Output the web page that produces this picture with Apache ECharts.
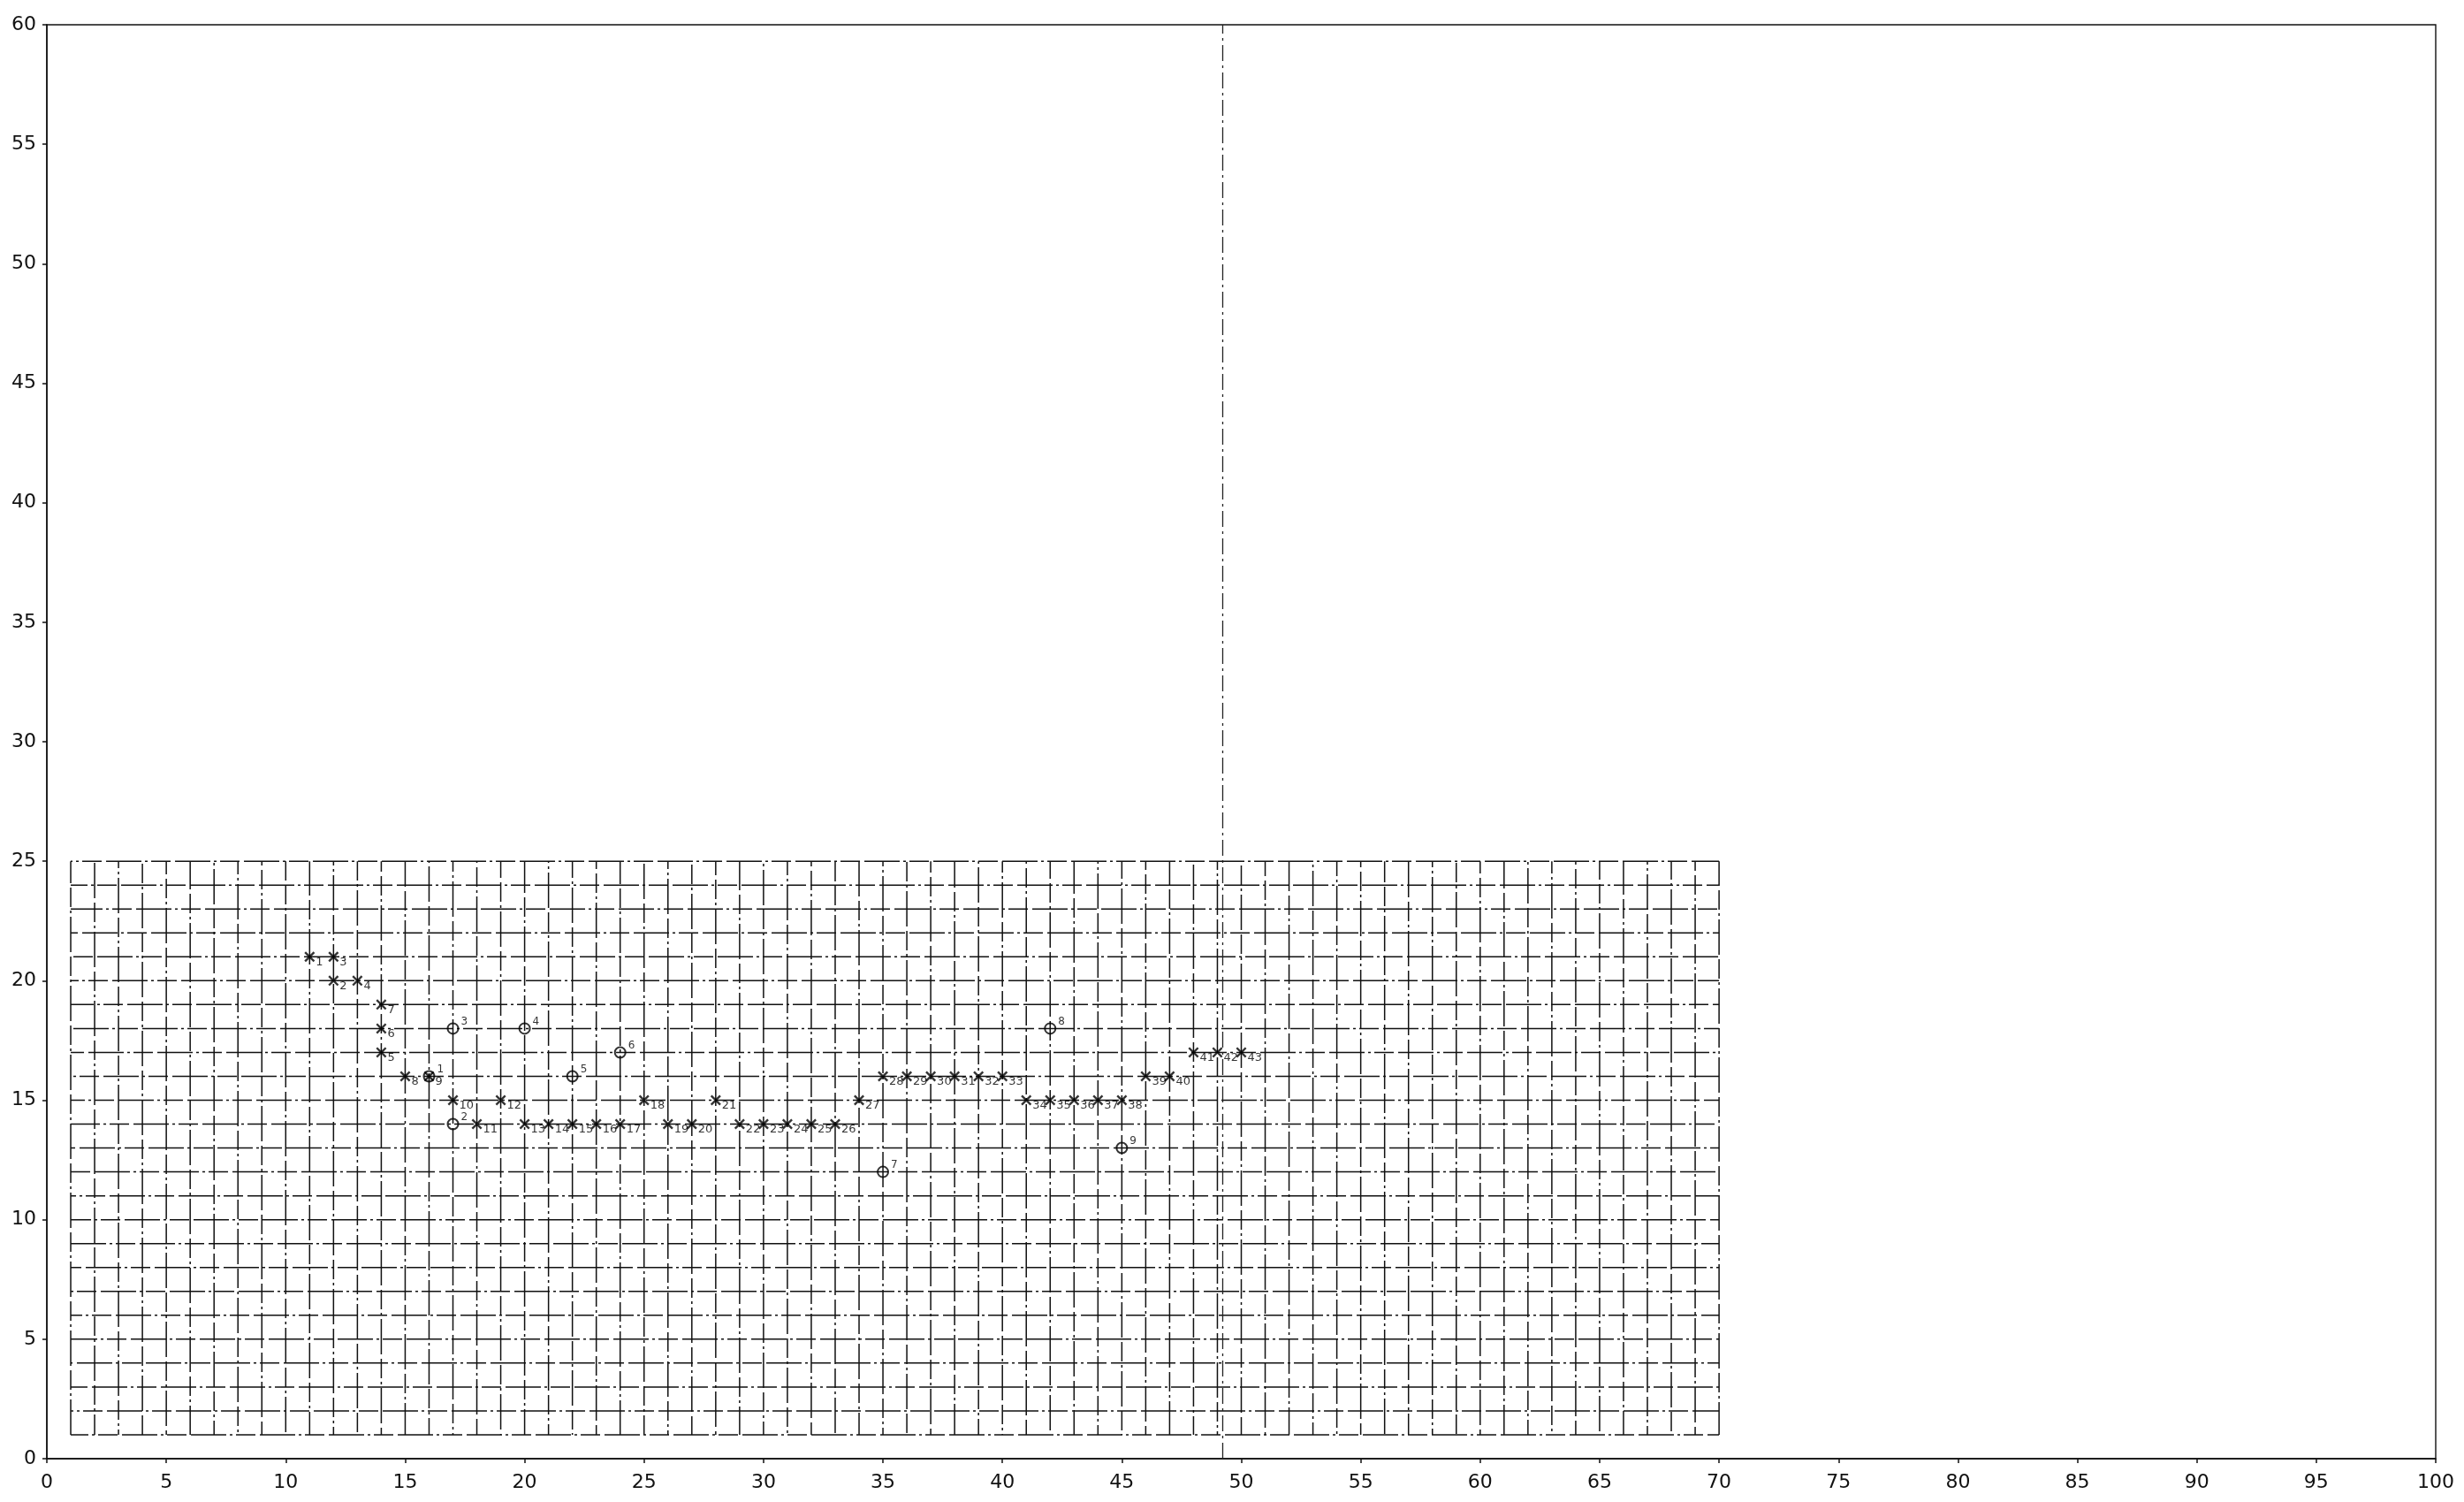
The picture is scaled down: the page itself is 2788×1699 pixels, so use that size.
<!DOCTYPE html>
<html>
<head>
<meta charset="utf-8">
<script src="https://cdn.jsdelivr.net/npm/echarts@6/dist/echarts.min.js"></script>
<style>
  html, body { margin: 0; padding: 0; background: #fff; }
  #chart { width: 2788px; height: 1699px; }
</style>
</head>
<body>
<div id="chart"></div>
<script>
// crosses, numbered 1..43 in order
const crossX = [11, 12, 12, 13, 14, 14, 14, 15, 16, 17, 18, 19, 20, 21, 22, 23, 24, 25, 26, 27,
  28, 29, 30, 31, 32, 33, 34, 35, 36, 37, 38, 39, 40, 41, 42, 43, 44, 45, 46, 47, 48, 49, 50];
const crossY = [21, 20, 21, 20, 17, 18, 19, 16, 16, 15, 14, 15, 14, 14, 14, 14, 14, 15, 14, 14,
  15, 14, 14, 14, 14, 14, 15, 16, 16, 16, 16, 16, 16, 15, 15, 15, 15, 15, 16, 16, 17, 17, 17];
// circles, numbered 1..9
const circleX = [16, 17, 17, 20, 22, 24, 35, 42, 45];
const circleY = [16, 14, 18, 18, 16, 17, 12, 18, 13];

// background reference grid (drawn cells) and the fold line of the sheet
const gridXRange = [1, 70];
const gridYRange = [1, 25];
const foldX = 49.2;

const xTicks = { min: 0, max: 100, interval: 5 };
const yTicks = { min: 0, max: 60, interval: 5 };

const gridLines = [];
for (let v = gridXRange[0]; v <= gridXRange[1]; v++) gridLines.push([0, v]);
for (let v = gridYRange[0]; v <= gridYRange[1]; v++) gridLines.push([1, v]);

const chart = echarts.init(document.getElementById('chart'));
const labelFont = 'DejaVu Sans';

const baseX = {
  type: 'value', min: xTicks.min, max: xTicks.max, interval: xTicks.interval,
  splitLine: { show: false }
};
const baseY = {
  type: 'value', min: yTicks.min, max: yTicks.max, interval: yTicks.interval,
  splitLine: { show: false }
};

const option = {
  animation: false,
  backgroundColor: '#fff',
  grid: {
    left: 53, right: 32, top: 28, bottom: 49,
    show: true, borderColor: '#111', borderWidth: 1.4
  },
  xAxis: [
    Object.assign({}, baseX, {
      axisLine: { lineStyle: { color: '#111', width: 1.5 } },
      axisTick: { inside: false, length: 5, lineStyle: { color: '#111', width: 1.5 } },
      axisLabel: { color: '#111', fontSize: 22, fontFamily: labelFont, margin: 16 }
    }),
    Object.assign({}, baseX, {
      axisLine: { show: false },
      axisTick: { inside: true, length: 5, lineStyle: { color: '#111', width: 1.5 } },
      axisLabel: { show: false }
    })
  ],
  yAxis: [
    Object.assign({}, baseY, {
      axisLine: { lineStyle: { color: '#111', width: 1.5 } },
      axisTick: { inside: false, length: 5, lineStyle: { color: '#111', width: 1.5 } },
      axisLabel: { color: '#111', fontSize: 22, fontFamily: labelFont, margin: 12 }
    }),
    Object.assign({}, baseY, {
      axisLine: { show: false },
      axisTick: { inside: true, length: 5, lineStyle: { color: '#111', width: 1.5 } },
      axisLabel: { show: false }
    })
  ],
  series: [
    {
      type: 'custom',
      silent: true,
      z: 1,
      data: gridLines,
      encode: { x: -1, y: -1 },
      renderItem: function (params, api) {
        const dir = api.value(0);
        const v = api.value(1);
        let p1, p2;
        if (dir === 0) {
          p1 = api.coord([v, gridYRange[0]]);
          p2 = api.coord([v, gridYRange[1]]);
        } else {
          p1 = api.coord([gridXRange[0], v]);
          p2 = api.coord([gridXRange[1], v]);
        }
        return {
          type: 'line',
          shape: { x1: p1[0], y1: p1[1], x2: p2[0], y2: p2[1] },
          style: {
            stroke: '#111', lineWidth: 1.5,
            lineDash: [40, 4, 3, 4, 22, 5],
            lineDashOffset: (params.dataIndex * 17) % 78
          }
        };
      },
      markLine: {
        silent: true,
        symbol: 'none',
        label: { show: false },
        lineStyle: { color: '#222', width: 1.3, type: [18, 5, 3, 5] },
        data: [{ xAxis: foldX }]
      }
    },
    {
      name: 'cross',
      type: 'scatter',
      z: 5,
      symbol: 'path://M0,1.4L1.4,0L5,3.6L8.6,0L10,1.4L6.4,5L10,8.6L8.6,10L5,6.4L1.4,10L0,8.6L3.6,5Z',
      symbolSize: 12,
      itemStyle: { color: '#000' },
      data: crossX.map((x, i) => [x, crossY[i]]),
      label: {
        show: true,
        position: 'right',
        distance: 1,
        offset: [0, 6],
        formatter: p => String(p.dataIndex + 1),
        fontSize: 13,
        fontFamily: labelFont,
        color: '#000'
      }
    },
    {
      name: 'circle',
      type: 'scatter',
      z: 6,
      symbol: 'circle',
      symbolSize: 12,
      itemStyle: { color: 'rgba(255,255,255,0)', borderColor: '#000', borderWidth: 2 },
      data: circleX.map((x, i) => [x, circleY[i]]),
      label: {
        show: true,
        position: 'right',
        distance: 2,
        offset: [0, -8],
        formatter: p => String(p.dataIndex + 1),
        fontSize: 12,
        fontFamily: labelFont,
        color: '#000'
      }
    }
  ]
};

chart.setOption(option);
</script>
</body>
</html>
